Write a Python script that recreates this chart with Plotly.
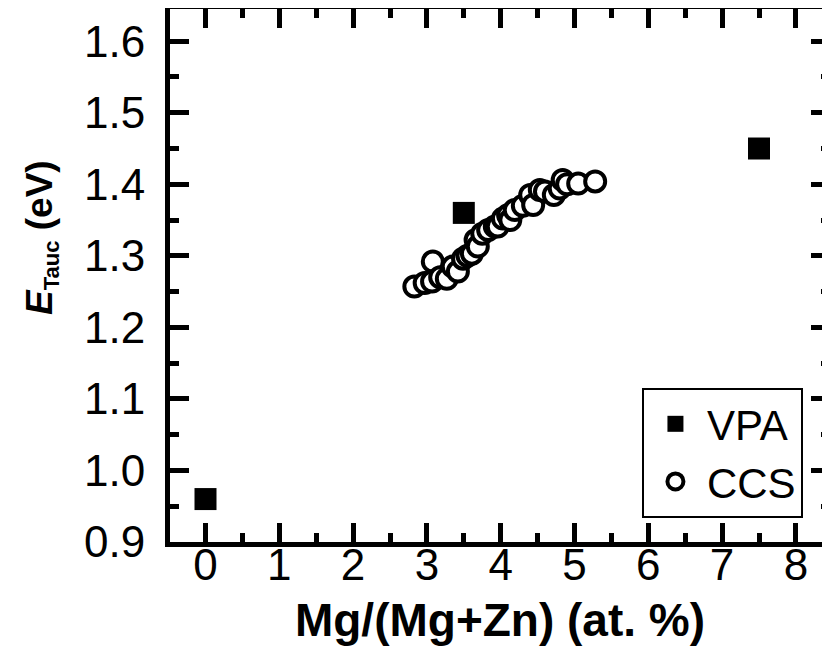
import plotly.graph_objects as go

vpa_x = [0.0, 3.5, 7.5]
vpa_y = [0.96, 1.36, 1.45]

ccs_x = [2.83, 2.97, 3.07, 3.08, 3.18, 3.27, 3.35, 3.42, 3.49, 3.55, 3.61, 3.66,
         3.69, 3.75, 3.83, 3.92, 3.96, 4.03, 4.10, 4.13, 4.19, 4.30, 4.40, 4.44,
         4.53, 4.60, 4.72, 4.80, 4.84, 4.90, 5.05, 5.28]
ccs_y = [1.257, 1.262, 1.264, 1.292, 1.270, 1.268, 1.285, 1.278, 1.296, 1.300,
         1.303, 1.322, 1.313, 1.331, 1.336, 1.341, 1.341, 1.352, 1.357, 1.350,
         1.364, 1.370, 1.385, 1.371, 1.392, 1.390, 1.385, 1.394, 1.406, 1.400,
         1.401, 1.404]

x_ticks = [0, 1, 2, 3, 4, 5, 6, 7, 8]
y_ticks = [0.9, 1.0, 1.1, 1.2, 1.3, 1.4, 1.5, 1.6]
y_ticklabels = ["0.9", "1.0", "1.1", "1.2", "1.3", "1.4", "1.5", "1.6"]

FONT = "Liberation Sans, Arial, sans-serif"

fig = go.Figure()
fig.add_trace(go.Scatter(
    x=vpa_x, y=vpa_y, mode="markers", name="VPA",
    marker=dict(symbol="square", size=22, color="black", line=dict(width=0)),
))
fig.add_trace(go.Scatter(
    x=ccs_x, y=ccs_y, mode="markers", name="CCS",
    marker=dict(symbol="circle", size=20, color="white",
                line=dict(width=4, color="black")),
))

axis_common = dict(
    ticks="inside", ticklen=19, tickwidth=5, tickcolor="black",
    showgrid=False, zeroline=False, automargin=False,
    showline=True, linewidth=5, linecolor="black", mirror="allticks",
    tickfont=dict(family=FONT, size=44, color="black"),
)

fig.update_xaxes(
    range=[-0.481, 8.462], tickmode="array", tickvals=x_ticks,
    ticktext=[str(v) for v in x_ticks],
    minor=dict(ticks="inside", ticklen=9, tickwidth=5, tickcolor="black", dtick=0.5),
    ticklabelstandoff=-20,
    title=dict(text="<b>Mg/(Mg+Zn) (at. %)</b>",
               font=dict(family=FONT, size=46, color="black"), standoff=18),
    **axis_common,
)
fig.update_yaxes(
    range=[0.9, 1.645], tickmode="array", tickvals=y_ticks, ticktext=y_ticklabels,
    minor=dict(ticks="inside", ticklen=9, tickwidth=5, tickcolor="black", dtick=0.05),
    ticklabelstandoff=11,
    **axis_common,
)

fig.add_annotation(
    text="<b><i>E</i><sub><span style=\"font-size:22px\">Tauc</span></sub> (eV)</b>",
    textangle=-90,
    xref="paper", yref="paper", x=-0.195, y=0.571, xanchor="center", yanchor="middle",
    showarrow=False, font=dict(family=FONT, size=37, color="black"),
)

fig.update_layout(
    width=830, height=664,
    margin=dict(l=162, r=8, t=1, b=130),
    plot_bgcolor="white", paper_bgcolor="white",
    showlegend=True,
    legend=dict(
        x=0.959, y=0.045, xanchor="right", yanchor="bottom",
        bgcolor="white", bordercolor="black", borderwidth=2,
        font=dict(family=FONT, size=42, color="black"),
        itemwidth=53, tracegroupgap=0,
    ),
)

fig.write_html("out.html")
